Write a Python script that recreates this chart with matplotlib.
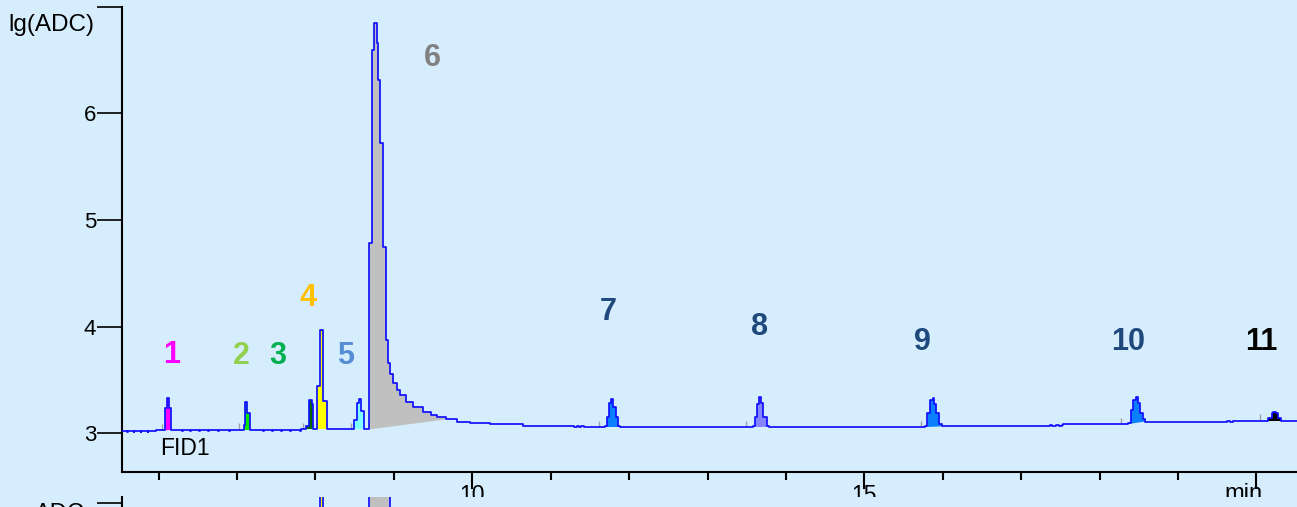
"""
FID1 chromatogram, log scale, with numbered peaks and filled peak areas.
"""

import matplotlib
matplotlib.use("Agg")
import matplotlib.pyplot as plt
from matplotlib.transforms import blended_transform_factory

plt.rcParams["font.family"] = ["Liberation Sans", "DejaVu Sans"]

BG = "#d5edfd"
TRACE_COLOR = "#1010ff"

# signal: time (min) / lg(ADC), stepped
trace_t = [
    5.53, 5.60, 5.61, 5.68, 5.69, 5.77, 5.78, 5.86, 5.87, 5.95, 5.96,
    6.085, 6.106, 6.127, 6.153,
    6.30, 6.31, 6.40, 6.41, 6.52, 6.53, 6.63, 6.64, 6.76, 6.77, 6.90, 6.91,
    7.088, 7.105, 7.131, 7.165,
    7.33, 7.34, 7.45, 7.46, 7.56, 7.57, 7.68, 7.69, 7.80, 7.81,
    7.875, 7.913, 7.921, 7.959, 7.972,
    8.020, 8.057, 8.092, 8.147,
    8.495, 8.533, 8.550, 8.577, 8.615,
    8.686, 8.720, 8.746, 8.780, 8.800, 8.823, 8.865, 8.900, 8.920, 8.950,
    8.990, 9.036, 9.080, 9.160, 9.250, 9.375, 9.470, 9.550, 9.660, 9.800,
    9.970, 10.23, 10.65,
    11.30, 11.33, 11.36, 11.39, 11.42,
    11.69, 11.714, 11.747, 11.77, 11.80, 11.833, 11.862, 11.884,
    13.576, 13.606, 13.627, 13.66, 13.686, 13.712, 13.755, 13.79,
    15.774, 15.804, 15.838, 15.872, 15.893, 15.92, 15.957, 15.987,
    17.37, 17.40, 17.44, 17.48, 17.52, 17.54,
    18.367, 18.40, 18.43, 18.465, 18.49, 18.517, 18.55, 18.58,
    19.58, 19.62, 19.66, 19.70, 19.75,
    20.153, 20.196, 20.217, 20.25, 20.28, 20.32, 20.55,
]
trace_v = [
    3.026, 3.016, 3.026, 3.016, 3.026, 3.016, 3.026, 3.016, 3.026, 3.018, 3.028,
    3.24, 3.33, 3.24, 3.032,
    3.022, 3.032, 3.022, 3.032, 3.022, 3.032, 3.022, 3.032, 3.022, 3.032, 3.022, 3.034,
    3.08, 3.29, 3.19, 3.034,
    3.024, 3.034, 3.024, 3.034, 3.024, 3.034, 3.024, 3.034, 3.024, 3.036,
    3.07, 3.27, 3.31, 3.27, 3.036,
    3.44, 3.97, 3.30, 3.036,
    3.12, 3.28, 3.32, 3.21, 3.036,
    4.78, 6.59, 6.85, 6.66, 6.31, 5.72, 4.75, 3.87, 3.66, 3.56,
    3.47, 3.41, 3.36, 3.29, 3.25, 3.20, 3.17, 3.15, 3.13, 3.11,
    3.10, 3.085, 3.07,
    3.058, 3.068, 3.058, 3.068, 3.058,
    3.07, 3.155, 3.28, 3.32, 3.25, 3.155, 3.07, 3.058,
    3.07, 3.155, 3.27, 3.337, 3.28, 3.155, 3.07, 3.058,
    3.065, 3.19, 3.31, 3.328, 3.27, 3.19, 3.09, 3.065,
    3.075, 3.065, 3.075, 3.068, 3.075, 3.087,
    3.10, 3.218, 3.31, 3.343, 3.28, 3.19, 3.13, 3.11,
    3.105, 3.112, 3.105, 3.112, 3.118,
    3.14, 3.19, 3.20, 3.19, 3.14, 3.118, 3.118,
]

# integrated peaks: start/end time, baseline at start/end, fill colour
peak_start = [6.085, 7.088, 7.875, 8.020, 8.495, 8.686, 11.69, 13.576, 15.774, 18.367, 20.153]
peak_end = [6.153, 7.165, 7.972, 8.147, 8.615, 9.660, 11.884, 13.79, 15.987, 18.58, 20.32]
peak_base0 = [3.028, 3.034, 3.036, 3.036, 3.036, 3.036, 3.058, 3.058, 3.058, 3.087, 3.118]
peak_base1 = [3.032, 3.034, 3.036, 3.036, 3.036, 3.13, 3.058, 3.058, 3.065, 3.11, 3.118]
peak_fill = ["#ff00ff", "#00e600", "#006a00", "#ffff00", "#80ffff", "#c0c0c0",
             "#0a80ff", "#8585ff", "#0a80ff", "#0a80ff", "#000000"]

# peak number labels
label_text = ["1", "2", "3", "4", "5", "6", "7", "8", "9", "10", "11"]
label_t = [6.17, 7.05, 7.52, 7.91, 8.39, 9.49, 11.74, 13.66, 15.74, 18.36, 20.07]
label_v = [3.73, 3.72, 3.72, 4.27, 3.72, 6.52, 4.14, 4.00, 3.86, 3.86, 3.86]
label_color = ["#ff00ff", "#92d050", "#00b050", "#ffc000", "#558ed5", "#808080",
               "#1f497d", "#1f497d", "#1f497d", "#1f497d", "#000000"]

# little grey integration start marks
mark_t = [6.04, 7.03, 7.84, 7.97, 8.45, 11.61, 13.49, 15.72, 18.27, 20.05]
mark_v = [3.028, 3.034, 3.036, 3.036, 3.036, 3.058, 3.058, 3.055, 3.087, 3.118]


def peak_polygon(s, e, b0, b1):
    xs, ys = [], []
    pts = [(t, v) for t, v in zip(trace_t, trace_v) if s - 1e-9 <= t <= e + 1e-9]
    for i, (t, v) in enumerate(pts[:-1]):
        xs += [t, pts[i + 1][0]]
        ys += [v, v]
    xs += [e, s]
    ys += [b1, b0]
    return xs, ys


W, H = 1297, 507
fig = plt.figure(figsize=(W / 100, H / 100), dpi=100)
fig.patch.set_facecolor(BG)

ax = fig.add_axes([122 / W, 35.5 / H, (W - 122) / W, 465 / H])
ax.set_facecolor(BG)
ax.set_xlim(5.532, 20.519)
ax.set_ylim(2.642, 7.0)

for s, e, b0, b1, c in zip(peak_start, peak_end, peak_base0, peak_base1, peak_fill):
    xs, ys = peak_polygon(s, e, b0, b1)
    ax.fill(xs, ys, color=c, lw=0, zorder=2)

ax.vlines(mark_t, mark_v, [v + 0.06 for v in mark_v], color="#a0a0a0", lw=1, zorder=2)
ax.plot(trace_t, trace_v, drawstyle="steps-post", color=TRACE_COLOR, lw=1.25, zorder=3)

for txt, t, v, c in zip(label_text, label_t, label_v, label_color):
    ax.text(t, v, txt, color=c, fontsize=22, fontweight="bold", ha="center", va="center")

ax.text(6.02, 2.862, "FID1", fontsize=16.5, ha="left", va="center")

for side in ("top", "right"):
    ax.spines[side].set_visible(False)
for side in ("left", "bottom"):
    ax.spines[side].set_linewidth(1.5)

ax.set_yticks([3, 4, 5, 6, 7])
ax.set_yticklabels(["3", "4", "5", "6", ""])
ax.tick_params(axis="y", length=18, width=1.2, pad=0.5, labelsize=16)

ax.set_xticks([10, 15, 20])
ax.set_xticklabels(["10", "15", ""])
ax.set_xticks(range(6, 21), minor=True)
ax.tick_params(axis="x", which="major", length=12, width=1.5, pad=-3, labelsize=16.5)
ax.tick_params(axis="x", which="minor", length=6, width=1.5)

trans = blended_transform_factory(ax.transData, ax.transAxes)
ax.text(19.84, -0.025, "min", transform=trans, fontsize=17, ha="center", va="top")

fig.text(8 / W, 1 - 25 / H, "lg(ADC)", fontsize=17.5, ha="left", va="center")

# top edge of the next (linear ADC) panel, cut off by the frame
ax2 = fig.add_axes([122 / W, (H - 743) / H, (W - 122) / W, 246 / H])
ax2.set_facecolor(BG)
ax2.set_xlim(5.532, 20.519)
ax2.set_ylim(0, 4100)
for s, e, b0, b1, c in zip(peak_start, peak_end, peak_base0, peak_base1, peak_fill):
    xs, ys = peak_polygon(s, e, b0, b1)
    ax2.fill(xs, [10 ** y for y in ys], color=c, lw=0, zorder=2)
ax2.plot(trace_t, [10 ** v for v in trace_v], drawstyle="steps-post",
         color=TRACE_COLOR, lw=1.25, zorder=3)
for side in ("top", "right", "bottom"):
    ax2.spines[side].set_visible(False)
ax2.spines["left"].set_linewidth(1.5)
ax2.set_yticks([4000])
ax2.set_yticklabels([""])
ax2.set_xticks([])
ax2.tick_params(axis="y", length=18, width=1.2)
fig.text(35 / W, 1 - 503 / H, "ADC", fontsize=17, ha="left", va="top")

fig.savefig("out.png", dpi=100, facecolor=BG)
